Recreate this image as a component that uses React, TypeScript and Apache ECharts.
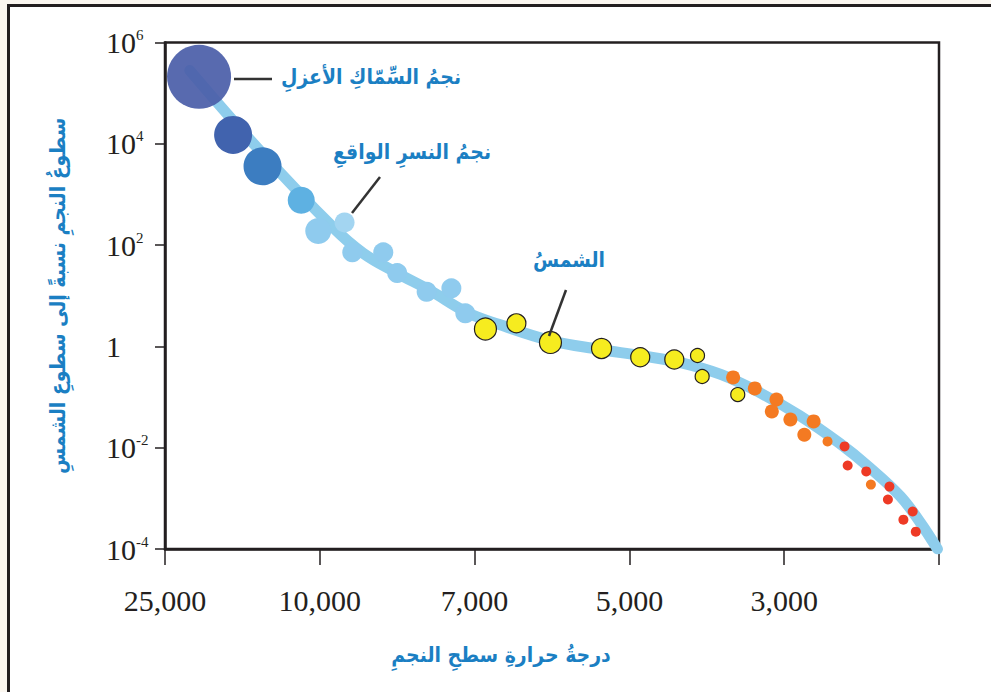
import React, { useEffect, useRef } from "react";
import * as echarts from "echarts";

// X axis: evenly spaced temperature ticks (K), drawn in tick units 0..5
const xTickLabels = ["25,000", "10,000", "7,000", "5,000", "3,000", ""];

// Main-sequence curve: [tick position, luminosity relative to Sun]
const curvePoints: [number, number][] = [
  [0.16, 2.8e5], [0.61, 7500], [1.085, 225], [1.28, 69], [1.5, 28], [1.71, 12.8],
  [1.95, 4.7], [2.16, 2.7], [2.49, 1.3], [2.81, 0.87], [3.07, 0.66], [3.33, 0.48],
  [3.59, 0.28], [3.84, 0.123], [4.1, 0.043], [4.36, 0.0121], [4.55, 0.0041],
  [4.75, 0.0011], [4.88, 0.00033], [4.99, 0.0001],
];

// Blue (hot) stars
const blueStars: [number, number][] = [
  [0.22, 2.1e5], [0.44, 1.5e4], [0.63, 3600], [0.88, 770], [0.99, 190], [1.16, 280],
  [1.21, 72], [1.41, 72], [1.5, 28], [1.69, 12], [1.85, 14], [1.94, 4.5],
];
const blueSizes = [64, 38, 38, 27, 26, 20, 20, 20, 20, 20, 20, 20];
const blueColors = [
  "#4b5fa9", "#4163ae", "#3c7dc1", "#5eb1e2", "#8fcbee", "#a3d5f1",
  "#8fcbee", "#8fcbee", "#8fcbee", "#8fcbee", "#8fcbee", "#8fcbee",
];

// Yellow stars
const yellowStars: [number, number][] = [
  [2.07, 2.2], [2.27, 2.85], [2.49, 1.2], [2.82, 0.91], [3.07, 0.61], [3.29, 0.55],
  [3.44, 0.66], [3.47, 0.255], [3.7, 0.112],
];
const yellowSizes = [22, 19, 22, 20, 19, 19, 14, 14, 14];

// Orange stars
const orangeStars: [number, number][] = [
  [3.67, 0.244], [3.81, 0.148], [3.95, 0.0897], [3.92, 0.052], [4.04, 0.036],
  [4.19, 0.033], [4.13, 0.018], [4.28, 0.0133], [4.56, 0.00187],
];
const orangeSizes = [14, 14, 14, 14, 14, 14, 14, 10, 10];

// Red stars
const redStars: [number, number][] = [
  [4.39, 0.0106], [4.41, 0.00445], [4.53, 0.0034], [4.68, 0.00171], [4.67, 0.00095],
  [4.83, 0.00055], [4.77, 0.00038], [4.85, 0.00022],
];

const BLUE_TEXT = "#1b7fc3";
const INK = "#231f20";
const AR_FONT = '"DejaVu Sans Condensed", "DejaVu Sans"';
const AR_SIZE = 21;

export default function App() {
  const ref = useRef<HTMLDivElement>(null);
  useEffect(() => {
    if (!ref.current) return;
    const chart = echarts.init(ref.current, undefined, { renderer: "svg" });
    const serif = "Liberation Serif";
    const arText = (text: string, x: number, y: number) => ({
      type: "text", x, y, z: 10,
      style: {
        text, fill: BLUE_TEXT, font: `bold ${AR_SIZE}px ${AR_FONT}`,
        align: "center", verticalAlign: "middle",
      },
    });
    chart.setOption({
      animation: false,
      backgroundColor: "#ffffff",
      grid: {
        left: 165, top: 42.5, right: 52, bottom: 143,
        show: true, borderColor: INK, borderWidth: 2.5, backgroundColor: "transparent",
      },
      xAxis: {
        type: "value", min: 0, max: 5, interval: 1,
        axisLine: { show: true, onZero: false, lineStyle: { color: INK, width: 2.5 } },
        axisTick: { show: true, length: 16, lineStyle: { color: INK, width: 1.5 } },
        splitLine: { show: false },
        axisLabel: {
          formatter: (v: number) => xTickLabels[Math.round(v)] ?? "",
          fontFamily: serif, fontSize: 30, color: INK, margin: 36,
          showMaxLabel: true, showMinLabel: true,
        },
      },
      yAxis: {
        type: "log", logBase: 10, min: 1e-4, max: 1e6, interval: 2,
        axisLine: { show: true, lineStyle: { color: INK, width: 2.5 } },
        axisTick: { show: true, length: 10, lineStyle: { color: INK, width: 1.5 } },
        splitLine: { show: false },
        axisLabel: {
          align: "left", margin: 59,
          formatter: (v: number) => {
            const e = Math.round(Math.log10(v));
            if (e === 0) return "{b|1}";
            return "{b|10}{s|" + (e < 0 ? "-" : "") + Math.abs(e) + "}";
          },
          rich: {
            b: { fontFamily: serif, fontSize: 30, color: INK, lineHeight: 30 },
            s: { fontFamily: serif, fontSize: 15, color: INK, lineHeight: 15, verticalAlign: "top" },
          },
        },
        name: "سطوعُ النجمِ نسبةً إلى سطوعِ الشمسِ",
        nameLocation: "middle", nameGap: 97, nameRotate: 90,
        nameTextStyle: { fontFamily: AR_FONT, fontSize: AR_SIZE, fontWeight: "bold", color: BLUE_TEXT },
      },
      graphic: [
        { type: "rect", shape: { x: 0, y: 0, width: 991, height: 4 }, style: { fill: "#fbf7f0" }, silent: true },
        { type: "rect", shape: { x: 0, y: 0, width: 7, height: 692 }, style: { fill: "#fbf7f0" }, silent: true },
        { type: "polyline", shape: { points: [[8.5, 692], [8.5, 5.5], [991, 5.5]] }, style: { stroke: INK, lineWidth: 3, fill: "none" }, silent: true },
        { type: "line", shape: { x1: 234, y1: 79, x2: 272, y2: 79 }, style: { stroke: "#333", lineWidth: 2.5 }, z: 10 },
        { type: "line", shape: { x1: 380, y1: 177, x2: 352, y2: 213 }, style: { stroke: "#333", lineWidth: 2.5 }, z: 10 },
        { type: "line", shape: { x1: 566, y1: 290, x2: 549, y2: 336 }, style: { stroke: "#333", lineWidth: 2.5 }, z: 10 },
        arText("نجمُ السِّمّاكِ الأعزلِ", 371, 77),
        arText("نجمُ النسرِ الواقعِ", 412, 152),
        arText("الشمسُ", 569, 260),
        arText("درجةُ حرارةِ سطحِ النجمِ", 501, 655),
      ],
      series: [
        {
          type: "line", data: curvePoints, smooth: 0.4, symbol: "none",
          lineStyle: { color: "#8ecdec", width: 11, cap: "round" }, z: 2, clip: true,
        },
        {
          type: "scatter", z: 3,
          data: blueStars.map((p, i) => ({
            value: p, symbolSize: blueSizes[i],
            itemStyle: { color: blueColors[i], opacity: i === 0 ? 0.93 : 1 },
          })),
        },
        {
          type: "scatter", z: 4,
          data: yellowStars.map((p, i) => ({ value: p, symbolSize: yellowSizes[i] })),
          itemStyle: { color: "#f6ec1f", borderColor: INK, borderWidth: 1.2, opacity: 1 },
        },
        {
          type: "scatter", z: 4,
          data: orangeStars.map((p, i) => ({ value: p, symbolSize: orangeSizes[i] })),
          itemStyle: { color: "#f47a22", opacity: 1 },
        },
        {
          type: "scatter", z: 4, data: redStars, symbolSize: 10,
          itemStyle: { color: "#ee3a25", opacity: 1 },
        },
      ],
    });
    return () => chart.dispose();
  }, []);
  return (
    <div
      ref={ref}
      style={{ position: "absolute", left: 0, top: 0, width: 991, height: 692 }}
    />
  );
}
